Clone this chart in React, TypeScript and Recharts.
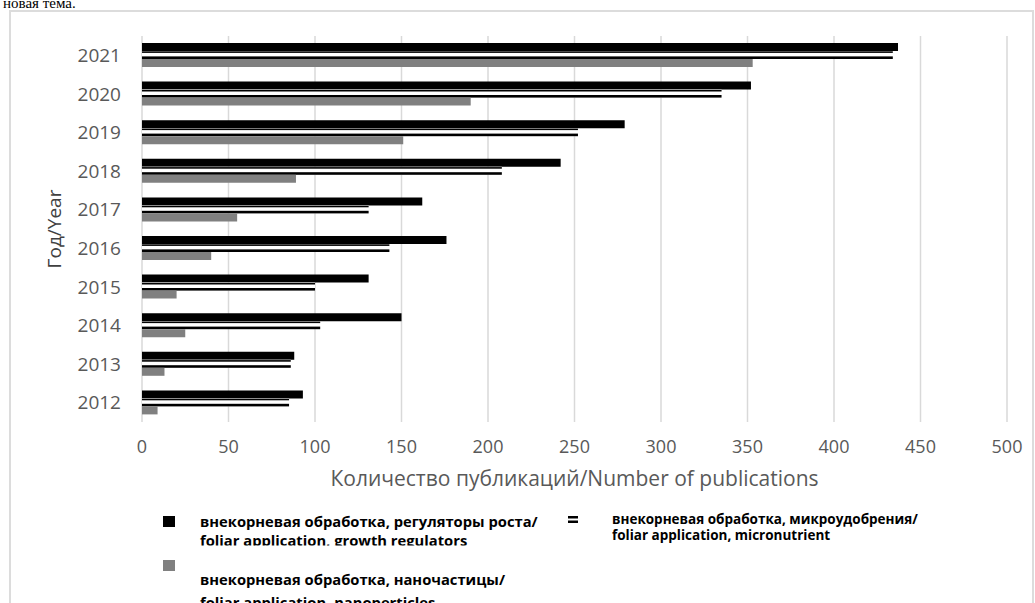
import React from 'react';
import { BarChart, Bar, XAxis, YAxis, CartesianGrid, Legend } from 'recharts';

const years = ['2021', '2020', '2019', '2018', '2017', '2016', '2015', '2014', '2013', '2012'];
const growthRegulators = [437, 352, 279, 242, 162, 176, 131, 150, 88, 93];
const micronutrient = [434, 335, 252, 208, 131, 143, 100, 103, 86, 85];
const nanoparticles = [353, 190, 151, 89, 55, 40, 20, 25, 13, 9];
const xTicks = [0, 50, 100, 150, 200, 250, 300, 350, 400, 450, 500];

const seriesRu = [
  'внекорневая обработка, регуляторы роста/',
  'внекорневая обработка, микроудобрения/',
  'внекорневая обработка, наночастицы/',
];
const seriesEn = [
  'foliar application, growth regulators',
  'foliar application, micronutrient',
  'foliar application, nanoperticles',
];
const xTitle = 'Количество публикаций/Number of publications';
const yTitle = 'Год/Year';
const pageNote = 'новая тема.';

const data = years.map((y, i) => ({
  year: y,
  growth: growthRegulators[i],
  micro: micronutrient[i],
  nano: nanoparticles[i],
}));

const FONT = '"Open Sans", sans-serif';

const MicroShape = (props: any) => {
  const { x, y, width, height } = props;
  if (!width || width <= 0) return null;
  return (
    <g>
      <rect x={x} y={y} width={width} height={height} fill="#ffffff" />
      <rect x={x} y={y + 0.3} width={width} height={1.6} fill="#000000" />
      <rect x={x} y={y + height - 2.6} width={width} height={2.6} fill="#000000" />
    </g>
  );
};

const LegendContent = () => (
  <svg width={1035} height={603} style={{ position: 'absolute', left: 0, top: 0 }}>
    <defs>
      <clipPath id="clip1">
        <rect x={0} y={0} width={600} height={545.5} />
      </clipPath>
    </defs>
    <g fontFamily={FONT} fontWeight={700} fill="#000">
      <rect x={163} y={516} width={12} height={11} fill="#000" />
      <text x={200} y={527} fontSize={14.75}>{seriesRu[0]}</text>
      <text x={200} y={546} fontSize={14.75} clipPath="url(#clip1)">{seriesEn[0]}</text>

      <rect x={568} y={516} width={10} height={2.5} fill="#000" />
      <rect x={568} y={520.5} width={10} height={2.5} fill="#000" />
      <text x={612} y={524} fontSize={13.5}>{seriesRu[1]}</text>
      <text x={612} y={540} fontSize={13.5}>{seriesEn[1]}</text>

      <rect x={163} y={560} width={12} height={11} fill="#808080" />
      <text x={200} y={585} fontSize={14.75}>{seriesRu[2]}</text>
      <text x={200} y={608} fontSize={14.75}>{seriesEn[2]}</text>
    </g>
  </svg>
);

export default function App() {
  return (
    <div
      style={{
        position: 'absolute',
        left: 0,
        top: 0,
        width: 1035,
        height: 603,
        overflow: 'hidden',
        background: '#ffffff',
      }}
    >
      <svg width={1035} height={20} style={{ position: 'absolute', left: 0, top: 0 }}>
        <text x={3} y={8} fontFamily='"Liberation Serif", serif' fontSize={15} fill="#000">
          {pageNote}
        </text>
      </svg>
      <div
        style={{
          position: 'absolute',
          left: 9,
          top: 10,
          width: 1025,
          height: 700,
          boxSizing: 'border-box',
          border: '2px solid #dcdcdc',
        }}
      />
      <div style={{ position: 'absolute', left: 0, top: 0 }}>
        <BarChart
          width={1035}
          height={603}
          data={data}
          layout="vertical"
          margin={{ top: 36, right: 28, left: 0, bottom: 111 }}
          barSize={8}
          barGap={0}
        >
          <CartesianGrid horizontal={false} vertical stroke="#d9d9d9" strokeWidth={1.5} />
          <XAxis
            type="number"
            domain={[0, 500]}
            ticks={xTicks}
            interval={0}
            axisLine={false}
            tickLine={false}
            tickSize={0}
            tickMargin={18}
            height={70}
            tick={{ fill: '#595959', fontSize: 18, fontFamily: FONT }}
            label={{
              content: (p: any) => {
                const vb = p.viewBox || {};
                return (
                  <text
                    x={vb.x + vb.width / 2}
                    y={vb.y + 64}
                    textAnchor="middle"
                    fill="#595959"
                    fontSize={21}
                    fontFamily={FONT}
                  >
                    {xTitle}
                  </text>
                );
              },
            }}
          />
          <YAxis
            type="category"
            dataKey="year"
            width={142}
            axisLine={false}
            tickLine={false}
            tickSize={0}
            tickMargin={21}
            tick={{ fill: '#595959', fontSize: 19, fontFamily: FONT }}
            label={{
              content: (p: any) => {
                const vb = p.viewBox || {};
                const cx = 61;
                const cy = vb.y + vb.height / 2;
                return (
                  <text
                    x={cx}
                    y={cy}
                    textAnchor="middle"
                    fill="#404040"
                    fontSize={19}
                    fontFamily={FONT}
                    transform={`rotate(-90, ${cx}, ${cy})`}
                  >
                    {yTitle}
                  </text>
                );
              },
            }}
          />
          <Legend
            layout="horizontal"
            verticalAlign="middle"
            content={<LegendContent />}
            wrapperStyle={{ position: 'absolute', left: 0, top: 0, width: 1035, height: 603, pointerEvents: 'none' }}
          />
          <Bar dataKey="growth" name={seriesRu[0]} fill="#000000" isAnimationActive={false} />
          <Bar dataKey="micro" name={seriesRu[1]} fill="#ffffff" shape={<MicroShape />} isAnimationActive={false} />
          <Bar dataKey="nano" name={seriesRu[2]} fill="#808080" isAnimationActive={false} />
        </BarChart>
      </div>
    </div>
  );
}
